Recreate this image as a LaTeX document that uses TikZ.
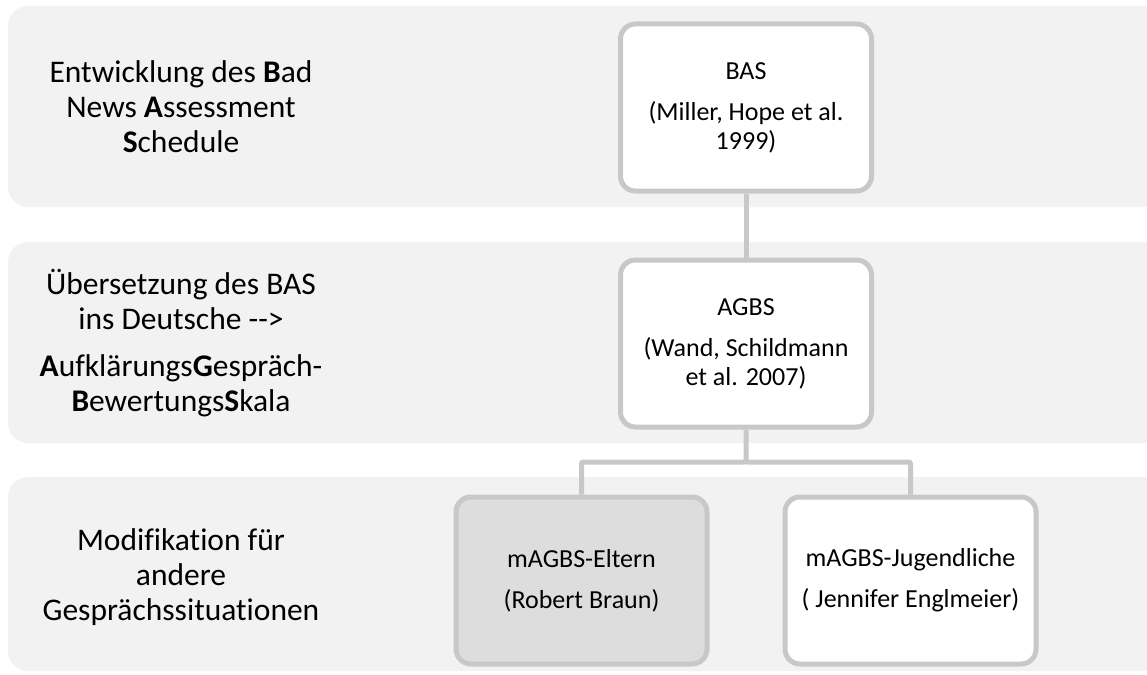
\documentclass[tikz,border=0pt]{standalone}
\usepackage{fontspec}
\setmainfont{Carlito}[Ligatures=NoCommon]
\usetikzlibrary{positioning}

\definecolor{bandgray}{HTML}{F2F2F2}
\definecolor{linegray}{HTML}{C8C8C8}
\definecolor{boxfill}{HTML}{DDDDDD}

\begin{document}
\begin{tikzpicture}[
    x=1pt, y=-1pt,
    band/.style={fill=bandgray, rounded corners=20pt},
    stage/.style={align=center, font=\fontsize{31.5}{35}\selectfont},
    instr/.style={rectangle, draw=linegray, line width=5pt, fill=white, rounded corners=15pt, minimum width=251pt, minimum height=167pt, align=center, font=\fontsize{26}{29}\selectfont},
    link/.style={draw=linegray, line width=5pt, rounded corners=2pt}
]
\useasboundingbox (0,0) rectangle (1147,674);
\clip (0,0) rectangle (1147,674);

% Bands
\fill[band] (8,6) rectangle (1165,207);
\fill[band] (8,242) rectangle (1165,443);
\fill[band] (8,477) rectangle (1165,671);

% Stage descriptions
\node[stage] (entw) at (181,107) {Entwicklung des \textbf{B}ad\\News \textbf{A}ssessment\\\textbf{S}chedule};
\node[stage] (uebers) at (181,343) {Übersetzung des BAS\\ins Deutsche {-}{-}>\\[12pt]\textbf{A}ufklärungs\textbf{G}espräch-\\\textbf{B}ewertungs\textbf{S}kala};
\node[stage] (modif) at (181,577) {Modifikation für\\andere\\Gesprächssituationen};

% Instruments
\node[instr] (bas) at (746,107.5) {BAS\\[12pt](Miller, Hope et al.\\1999)};
\node[instr] (agbs) at (746,343.5) {AGBS\\[12pt](Wand, Schildmann\\et al. 2007)};
\node[instr, fill=boxfill] (eltern) at (581.5,580.5) {mAGBS-Eltern\\[12pt](Robert Braun)};
\node[instr] (jugend) at (910.5,580.5) {mAGBS-Jugendliche\\[12pt]( Jennifer Englmeier)};

% Connections
\coordinate (split) at (746,462);
\draw[link] (bas) -- (agbs);
\draw[link] (agbs) -- (split) -| (eltern);
\draw[link] (split) -| (jugend);

\end{tikzpicture}
\end{document}
